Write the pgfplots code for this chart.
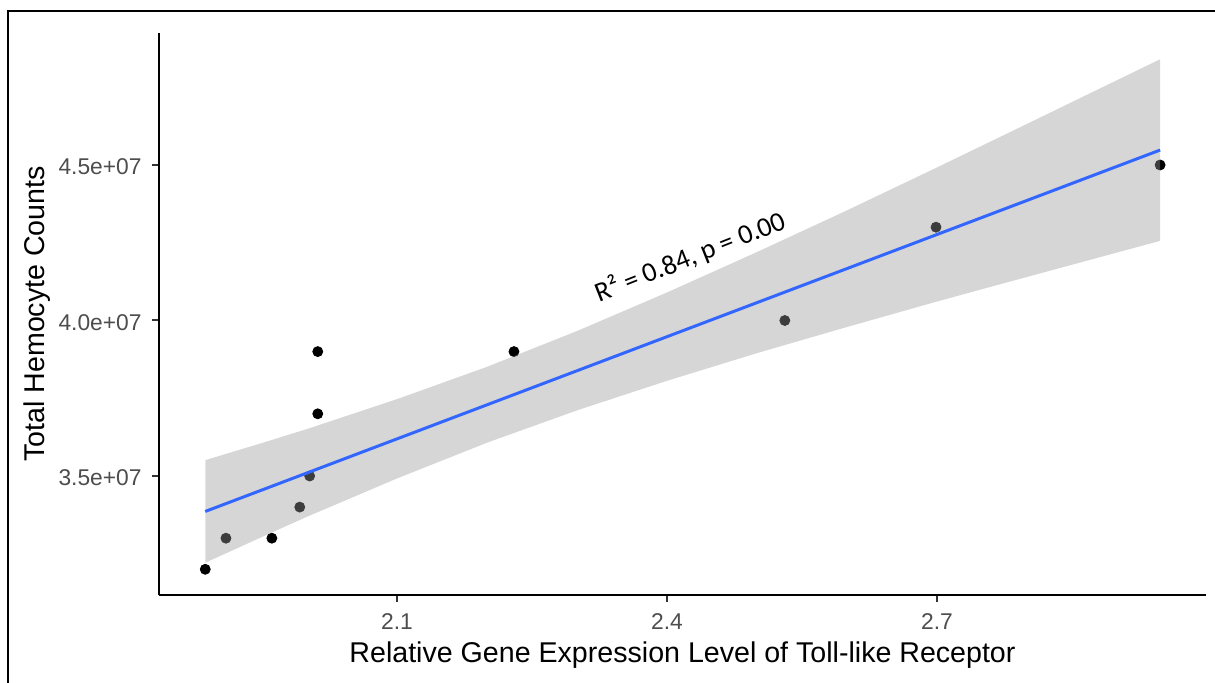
\documentclass[border=0pt]{standalone}
\usepackage{pgfplots}
\pgfplotsset{compat=1.18}
\usepackage{fontspec}
\setmainfont{Liberation Sans}
\newfontfamily\carlito{Carlito}
\definecolor{ribbon}{RGB}{153,153,153}
\definecolor{fitblue}{RGB}{51,102,255}
\definecolor{ticktext}{RGB}{77,77,77}
\definecolor{tickc}{RGB}{51,51,51}
\begin{document}
\begin{tikzpicture}
\begin{axis}[
  set layers,
  at={(79.5pt,44pt)}, anchor=south west,
  scale only axis, width=523.5pt, height=281.15pt,
  xmin=1.8356, xmax=2.999, ymin=3.1174, ymax=4.9254,
  axis x line*=bottom, axis y line*=left,
  axis line style={black, line width=1pt},
  xtick={2.1,2.4,2.7}, xticklabels={2.1,2.4,2.7},
  ytick={3.5,4.0,4.5}, yticklabels={3.5e+07,4.0e+07,4.5e+07},
  tick align=outside, major tick length=3.5pt,
  tick style={tickc, line width=1pt},
  ticklabel style={font=\fontsize{11.4}{13}\selectfont, text=ticktext},
  xticklabel style={anchor=base, inner sep=0pt, yshift=-14pt},
  yticklabel style={anchor=east, inner sep=0pt, xshift=-5pt, yshift=-1pt},
  xlabel={Relative Gene Expression Level of Toll-like Receptor},
  ylabel={Total Hemocyte Counts},
  label style={font=\fontsize{14.3}{16}\selectfont, text=black},
  xlabel style={at={(axis description cs:0.5,-0.1209)}, anchor=base, inner sep=0pt},
  ylabel style={at={(axis description cs:-0.1089,0.5)}, anchor=base, inner sep=0pt},
  clip=false,
]
% observed points (units of 1e7), drawn beneath the band
\addplot[on layer=axis background, mark layer=axis background,
  only marks, mark=*, mark size=2.5pt, black] coordinates {
  (1.887,3.2) (1.910,3.3) (1.961,3.3) (1.992,3.4) (2.003,3.5)
  (2.012,3.7) (2.012,3.9) (2.230,3.9) (2.531,4.0) (2.699,4.3) (2.948,4.5)
};
% 95% confidence band (upper edge then lower edge reversed)
\addplot[draw=none, fill=ribbon, fill opacity=0.4] coordinates {
  (1.887,3.551) (1.950,3.606) (2.000,3.651) (2.100,3.747) (2.200,3.851)
  (2.300,3.966) (2.400,4.090) (2.500,4.220) (2.600,4.354) (2.700,4.492)
  (2.800,4.632) (2.948,4.840)
  (2.948,4.256) (2.800,4.140) (2.700,4.061) (2.600,3.979) (2.500,3.895)
  (2.400,3.806) (2.300,3.711) (2.200,3.607) (2.100,3.492) (2.000,3.369)
  (1.950,3.304) (1.887,3.221)
} -- cycle;
% fitted line
\addplot[fitblue, line width=1.5pt] coordinates {(1.887,3.386) (2.948,4.548)};
\node[rotate=21.6, anchor=base, inner sep=0pt, text=black,
      font=\carlito\fontsize{13.8}{15}\selectfont]
  at (axis cs:2.43,4.178) {R² = 0.84, p = 0.00};
\end{axis}
\draw[line width=1pt] (4pt,0pt) -- (4pt,336pt) -- (607.5pt,336pt);
\pgfresetboundingbox
\path (0pt,0pt) rectangle (607.5pt,341.5pt);
\end{tikzpicture}
\end{document}
